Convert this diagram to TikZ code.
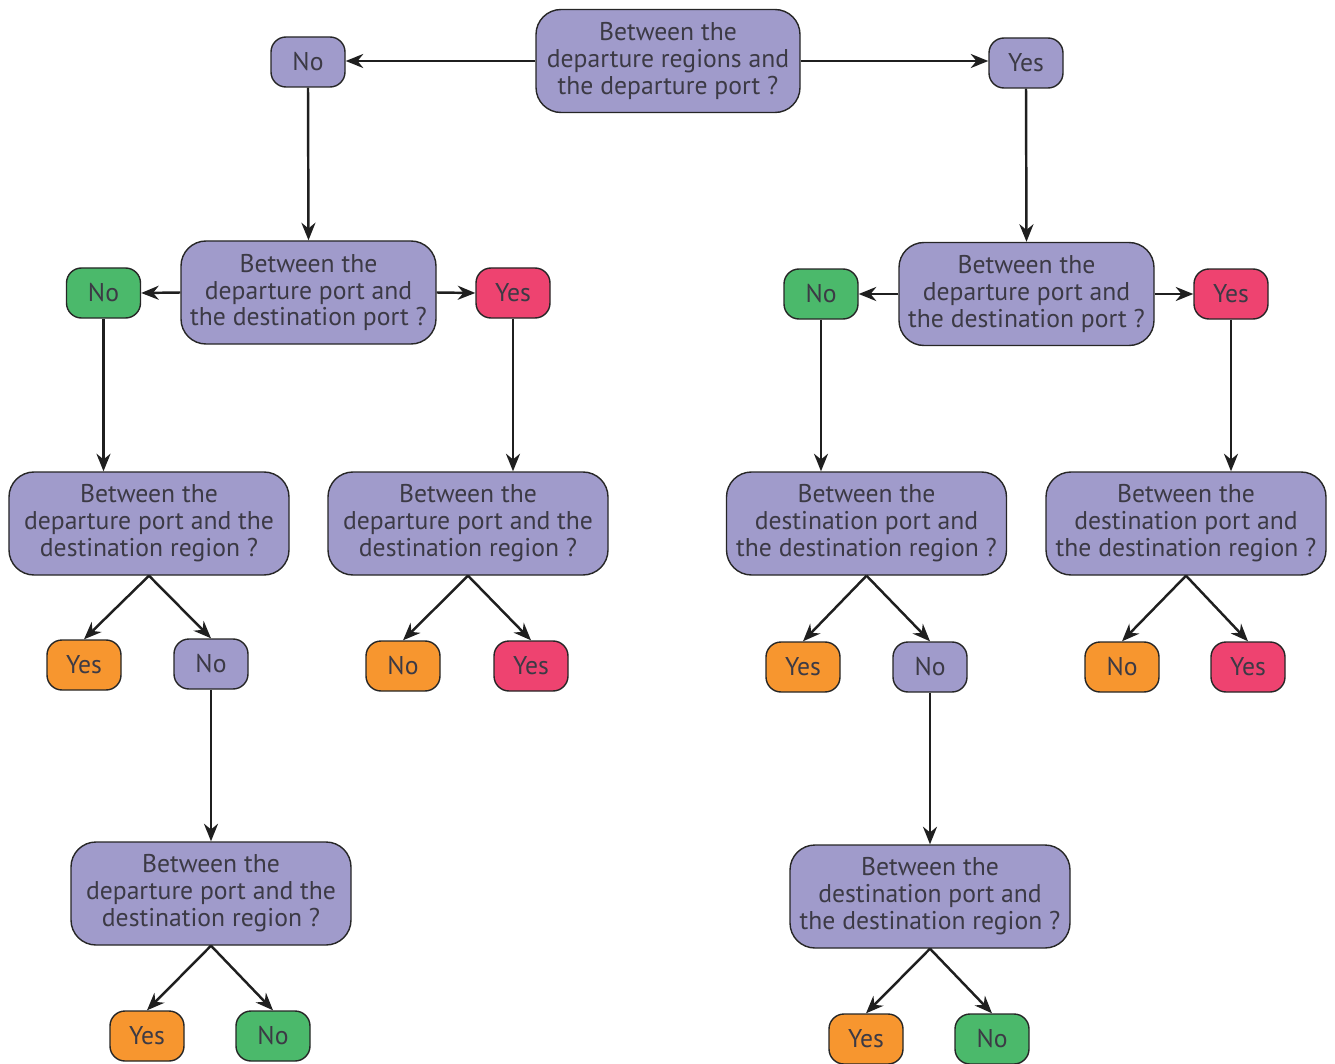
\documentclass[tikz,border=0pt]{standalone}
\usepackage{fontspec}
\setmainfont{PT Sans}
\usetikzlibrary{arrows.meta}

\definecolor{qfill}{HTML}{A09BCB}
\definecolor{nogreen}{HTML}{4BB96B}
\definecolor{yesred}{HTML}{EE4370}
\definecolor{ansorange}{HTML}{F7962F}
\definecolor{txtgray}{HTML}{3C3A45}

\tikzset{
  question/.style={draw=black!85, line width=0.8pt, fill=qfill, rounded corners=0.5cm,
    minimum width=5.6cm, minimum height=2.06cm, inner sep=0pt, align=center,
    text=txtgray, font=\fontsize{14.6}{15.3}\selectfont},
  answer/.style={draw=black!85, line width=0.8pt, rounded corners=0.3cm,
    minimum width=1.48cm, minimum height=1.0cm, inner sep=0pt,
    text=txtgray, font=\fontsize{14.6}{15.3}\selectfont},
  link/.style={-{Stealth[length=10pt,width=8pt]}, line width=1.4pt, draw=black!88}
}

\begin{document}
\begin{tikzpicture}

\useasboundingbox (0.0,0.0) rectangle (26.7,-21.28);

% top question
\node[question, minimum width=5.28cm] (q0) at (13.36,-1.22) {Between the\\departure regions and\\the departure port ?};
\node[answer, fill=qfill] (n0) at (6.16,-1.24) {No};
\node[answer, fill=qfill] (y0) at (20.52,-1.26) {Yes};

% left branch
\node[question, minimum width=5.1cm] (ql) at (6.17,-5.85) {Between the\\departure port and\\the destination port ?};
\node[answer, fill=nogreen] (nl) at (2.07,-5.86) {No};
\node[answer, fill=yesred] (yl) at (10.26,-5.86) {Yes};

\node[question] (qll) at (2.98,-10.47) {Between the\\departure port and the\\destination region ?};
\node[question] (qlr) at (9.36,-10.47) {Between the\\departure port and the\\destination region ?};

\node[answer, fill=ansorange] (yll) at (1.68,-13.30) {Yes};
\node[answer, fill=qfill] (nll) at (4.22,-13.28) {No};
\node[answer, fill=ansorange] (nlr) at (8.06,-13.32) {No};
\node[answer, fill=yesred] (ylr) at (10.62,-13.32) {Yes};

\node[question] (qlb) at (4.22,-17.87) {Between the\\departure port and the\\destination region ?};
\node[answer, fill=ansorange] (ylb) at (2.94,-20.72) {Yes};
\node[answer, fill=nogreen] (nlb) at (5.46,-20.72) {No};

% right branch
\node[question, minimum width=5.1cm] (qr) at (20.53,-5.88) {Between the\\departure port and\\the destination port ?};
\node[answer, fill=nogreen] (nr) at (16.42,-5.88) {No};
\node[answer, fill=yesred] (yr) at (24.62,-5.88) {Yes};

\node[question] (qrl) at (17.33,-10.47) {Between the\\destination port and\\the destination region ?};
\node[question] (qrr) at (23.72,-10.47) {Between the\\destination port and\\the destination region ?};

\node[answer, fill=ansorange] (yrl) at (16.06,-13.34) {Yes};
\node[answer, fill=qfill] (nrl) at (18.60,-13.34) {No};
\node[answer, fill=ansorange] (nrr) at (22.44,-13.34) {No};
\node[answer, fill=yesred] (yrr) at (24.96,-13.34) {Yes};

\node[question] (qrb) at (18.60,-17.93) {Between the\\destination port and\\the destination region ?};
\node[answer, fill=ansorange] (yrb) at (17.32,-20.78) {Yes};
\node[answer, fill=nogreen] (nrb) at (19.84,-20.78) {No};

% connectors
\draw[link] (q0.west) -- (q0.west -| n0.east);
\draw[link] (q0.east) -- (q0.east -| y0.west);
\draw[link] (n0.south) -- (ql.north);
\draw[link] (y0.south) -- (qr.north);

\draw[link] (ql.west) -- (nl.east);
\draw[link] (ql.east) -- (yl.west);
\draw[link] (nl.south) -- (nl.south |- qll.north);
\draw[link] (yl.south) -- (yl.south |- qlr.north);
\draw[link] (qll.south) -- (yll.north);
\draw[link] (qll.south) -- (nll.north);
\draw[link] (qlr.south) -- (nlr.north);
\draw[link] (qlr.south) -- (ylr.north);
\draw[link] (nll.south) -- (qlb.north);
\draw[link] (qlb.south) -- (ylb.north);
\draw[link] (qlb.south) -- (nlb.north);

\draw[link] (qr.west) -- (nr.east);
\draw[link] (qr.east) -- (yr.west);
\draw[link] (nr.south) -- (nr.south |- qrl.north);
\draw[link] (yr.south) -- (yr.south |- qrr.north);
\draw[link] (qrl.south) -- (yrl.north);
\draw[link] (qrl.south) -- (nrl.north);
\draw[link] (qrr.south) -- (nrr.north);
\draw[link] (qrr.south) -- (yrr.north);
\draw[link] (nrl.south) -- (qrb.north);
\draw[link] (qrb.south) -- (yrb.north);
\draw[link] (qrb.south) -- (nrb.north);

\end{tikzpicture}
\end{document}
